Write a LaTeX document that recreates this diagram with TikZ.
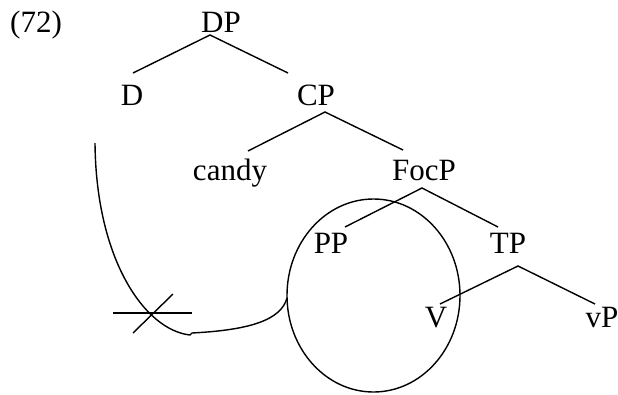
\documentclass[tikz,border=0pt]{standalone}
\usepackage{fontspec}
\setmainfont{Liberation Serif}
\begin{document}
\begin{tikzpicture}[x=1pt,y=-1pt,
  lbl/.style={anchor=base,inner sep=0pt,font=\fontsize{31}{36}\selectfont},
  edge/.style={line width=1.4pt},
  curvestroke/.style={line width=1.4pt}]
\useasboundingbox (0,0) rectangle (618,394);
\node[lbl,anchor=base west] (num) at (10,32) {(72)};
\node[lbl] (DP) at (221,32) {DP};
\node[lbl] (D) at (132,105) {D};
\node[lbl] (CP) at (316,105) {CP};
\node[lbl] (candy) at (230,180) {candy};
\node[lbl] (FocP) at (424,180) {FocP};
\node[lbl] (PP) at (331,253) {PP};
\node[lbl] (TP) at (508,253) {TP};
\node[lbl] (V) at (436,327) {V};
\node[lbl] (vP) at (602,327) {vP};
% tree edges
\draw[edge] ([shift={(1,-32)}]D.base) -- ([shift={(-11,3)}]DP.base) -- ([shift={(-28,-32)}]CP.base);
\draw[edge] ([shift={(18,-29)}]candy.base) -- ([shift={(9,7)}]CP.base) -- ([shift={(-21,-30)}]FocP.base);
\draw[edge] ([shift={(14,-26)}]PP.base) -- ([shift={(-2,8)}]FocP.base) -- ([shift={(-10,-26)}]TP.base);
\draw[edge] ([shift={(4,-23)}]V.base) -- ([shift={(10,13)}]TP.base) -- ([shift={(-7,-23)}]vP.base);
% circle
\coordinate (ec) at (373.5,295.5);
\draw[curvestroke] (ec) ellipse [x radius=86.5, y radius=96.5];
% movement line
\coordinate (mstart) at (95,143);
\coordinate (mbend) at (190,335);
\coordinate (mjog) at (192,333);
\coordinate (mend) at (287,298);
\draw[curvestroke] (mstart) .. controls (96,260) and (145,330) .. (mbend) -- (mjog)
  .. controls (250,330) and (281,320) .. (mend);
% cross
\draw[curvestroke] (113,313) -- (192,313);
\draw[curvestroke] (133,333) -- (173,294);
\end{tikzpicture}
\end{document}
